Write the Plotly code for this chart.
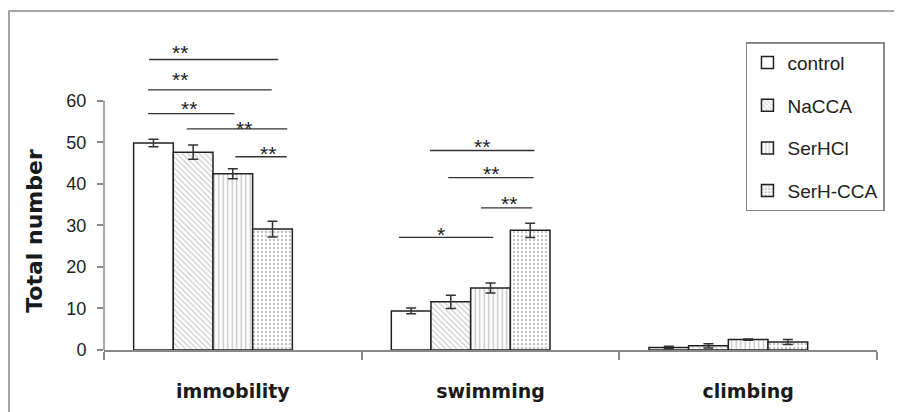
import plotly.graph_objects as go

categories = ["immobility", "swimming", "climbing"]
series_names = ["control", "NaCCA", "SerHCl", "SerH-CCA"]

control = [49.8, 9.4, 0.6]
naCCA = [47.6, 11.6, 1.0]
serHCl = [42.4, 14.9, 2.5]
serHCCA = [29.1, 28.8, 1.9]

control_err = [0.9, 0.7, 0.3]
naCCA_err = [1.7, 1.6, 0.5]
serHCl_err = [1.2, 1.2, 0.15]
serHCCA_err = [1.9, 1.7, 0.6]

# significance brackets: (x start, x end, level) in category units / value units
sig_lines = [
    (-0.325, 0.176, 69.9),
    (-0.329, 0.151, 62.6),
    (-0.329, 0.006, 56.9),
    (-0.179, 0.211, 53.2),
    (0.010, 0.209, 46.5),
    (0.765, 1.170, 48.0),
    (0.836, 1.167, 41.5),
    (0.963, 1.162, 34.2),
    (0.645, 1.011, 27.1),
]
sig_labels = [
    (-0.205, 72.7, "**"),
    (-0.205, 66.3, "**"),
    (-0.170, 59.4, "**"),
    (0.044, 54.4, "**"),
    (0.135, 48.6, "**"),
    (0.967, 50.2, "**"),
    (1.002, 43.6, "**"),
    (1.073, 36.5, "**"),
    (0.807, 29.0, "*"),
]

yticks = [0, 10, 20, 30, 40, 50, 60]

values = [control, naCCA, serHCl, serHCCA]
errors = [control_err, naCCA_err, serHCl_err, serHCCA_err]
patterns = [
    dict(shape=""),
    dict(shape="\\", fgcolor="#9a9a9a", bgcolor="white", size=4, solidity=0.3),
    dict(shape="|", fgcolor="#8a8a8a", bgcolor="white", size=4.5, solidity=0.3),
    dict(shape=".", fgcolor="#8a8a8a", bgcolor="white", size=4, solidity=0.3),
]

n_slots = 5
group_w = 0.77
bw = group_w / n_slots

fig = go.Figure()
for i, (name, v, e, p) in enumerate(zip(series_names, values, errors, patterns)):
    fig.add_trace(go.Bar(
        name=name, x=categories, y=v,
        width=bw, offset=-group_w / 2 + i * bw,
        marker=dict(color="white", pattern=p, line=dict(color="#222222", width=1.5)),
        error_y=dict(type="data", array=e, visible=True, color="#333333", thickness=1.5, width=5),
        legendgroup=name,
    ))

shapes = []
for x0, x1, yv in sig_lines:
    shapes.append(dict(type="line", xref="x", yref="y", x0=x0, x1=x1, y0=yv, y1=yv,
                       line=dict(color="#333333", width=1.3)))
# y axis line from 0 to 60
shapes.append(dict(type="line", xref="paper", yref="y", x0=0, x1=0, y0=0, y1=yticks[-1],
                   line=dict(color="#888888", width=1.5)))
# outer chart frame
shapes.append(dict(type="path", xref="paper", yref="paper",
                   path="M -0.1229 -0.4 L -0.1229 1.0594 L 1.2 1.0594",
                   line=dict(color="#888888", width=1.5)))

annotations = []
for x, yv, t in sig_labels:
    annotations.append(dict(x=x, y=yv, xref="x", yref="y", text=t, showarrow=False,
                            yanchor="middle", yshift=-5,
                            font=dict(family="Liberation Sans, Arial", size=21, color="#222222")))
annotations.append(dict(x=0, y=28.7, xref="paper", yref="y", text="Total number",
                        showarrow=False, textangle=-90, xshift=-69, xanchor="center",
                        yanchor="middle",
                        font=dict(family="DejaVu Sans", size=22, color="#1a1a1a", weight="bold")))

fig.update_layout(
    width=894, height=404,
    margin=dict(l=96, r=25, t=22, b=62, autoexpand=False),
    paper_bgcolor="white", plot_bgcolor="white",
    barmode="group",
    shapes=shapes, annotations=annotations,
    showlegend=True,
    legend=dict(x=0.8305, y=0.962, xanchor="left", yanchor="top",
                bordercolor="#888888", borderwidth=1.5, bgcolor="white",
                tracegroupgap=15, traceorder="grouped",
                font=dict(family="Liberation Sans, Arial", size=19, color="#222222")),
    xaxis=dict(showline=True, linecolor="#888888", linewidth=1.5, automargin=False,
               ticks="outside", tickson="boundaries", ticklen=8, tickcolor="#888888", tickwidth=1.5,
               ticklabelstandoff=23, showgrid=False,
               tickfont=dict(family="DejaVu Sans", size=19, color="#1a1a1a", weight="bold")),
    yaxis=dict(range=[0, 77], tickvals=yticks, showline=False, showgrid=False, zeroline=False,
               automargin=False,
               ticks="outside", ticklen=6, tickcolor="#888888", tickwidth=1.5,
               ticklabelstandoff=7,
               tickfont=dict(family="Liberation Sans, Arial", size=18, color="#222222")),
)

fig.write_html("out.html")
